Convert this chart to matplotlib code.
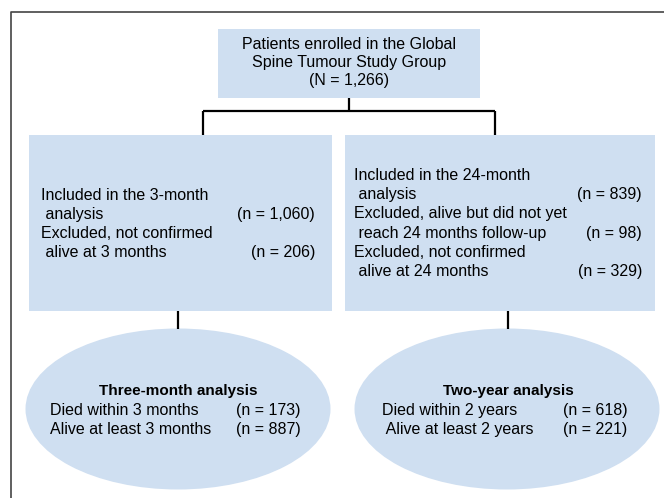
import matplotlib.pyplot as plt
from matplotlib.patches import Rectangle, Ellipse

# counts
n_total = 1266
n_3m_included = 1060
n_3m_excluded = 206
n_24m_included = 839
n_24m_not_yet = 98
n_24m_not_confirmed = 329
n_3m_died = 173
n_3m_alive = 887
n_2y_died = 618
n_2y_alive = 221

top_lines = ["Patients enrolled in the Global", "Spine Tumour Study Group",
             "(N = {:,})".format(n_total)]
left_labels = ["Included in the 3-month", " analysis", "Excluded, not confirmed",
               " alive at 3 months"]
left_counts = [None, n_3m_included, None, n_3m_excluded]
right_labels = ["Included in the 24-month", " analysis", "Excluded, alive but did not yet",
                " reach 24 months follow-up", "Excluded, not confirmed", " alive at 24 months"]
right_counts = [None, n_24m_included, None, n_24m_not_yet, None, n_24m_not_confirmed]
ell_titles = ["Three-month analysis", "Two-year analysis"]
ell_labels = [["Died within 3 months", "Alive at least 3 months"],
              ["Died within 2 years", " Alive at least 2 years"]]
ell_counts = [[n_3m_died, n_3m_alive], [n_2y_died, n_2y_alive]]

fill = "#cfdff1"
plt.rcParams['font.family'] = ['Liberation Sans', 'DejaVu Sans']
fs = 11.5

fig = plt.figure(figsize=(6.64, 4.98), dpi=100)
ax = fig.add_axes([0, 0, 1, 1])
ax.set_xlim(0, 664)
ax.set_ylim(498, 0)
ax.axis('off')

# outer frame (runs off the right and bottom edges)
ax.plot([11, 11, 700], [520, 12, 12], color="#444444", lw=1.2, clip_on=True)

# boxes
ax.add_patch(Rectangle((218, 29), 262, 69, facecolor=fill, edgecolor='none'))
ax.add_patch(Rectangle((29, 135), 303, 176, facecolor=fill, edgecolor='none'))
ax.add_patch(Rectangle((345, 135), 310, 176, facecolor=fill, edgecolor='none'))
ax.add_patch(Ellipse((178, 409), 305, 161, facecolor=fill, edgecolor='none'))
ax.add_patch(Ellipse((507, 409), 305, 161, facecolor=fill, edgecolor='none'))

# connectors
lk = dict(color='black', lw=1.6, solid_capstyle='butt')
ax.plot([349, 349], [98, 111], **lk)
ax.plot([203, 495], [111, 111], **lk)
ax.plot([203, 203], [111, 135], **lk)
ax.plot([495, 495], [111, 135], **lk)
ax.plot([178, 178], [311, 329], **lk)
ax.plot([508, 508], [311, 329], **lk)

# top box text
for i, s in enumerate(top_lines):
    ax.text(349, 49 + i * 18, s, ha='center', va='baseline', fontsize=fs)

# middle boxes
for i, (s, n) in enumerate(zip(left_labels, left_counts)):
    y = 200 + i * 19
    ax.text(41, y, s, ha='left', va='baseline', fontsize=fs)
    if n is not None:
        ax.text(315, y, "(n = {:,})".format(n), ha='right', va='baseline', fontsize=fs)

for i, (s, n) in enumerate(zip(right_labels, right_counts)):
    y = 180 + i * 19.2
    ax.text(354, y, s, ha='left', va='baseline', fontsize=fs)
    if n is not None:
        ax.text(642, y, "(n = {:,})".format(n), ha='right', va='baseline', fontsize=fs)

# ellipses
title_x = [178, 508]
label_x = [50, 382]
count_x = [236, 563]
for k in range(2):
    ax.text(title_x[k], 395, ell_titles[k], ha='center', va='baseline',
            fontsize=11, fontweight='bold')
    for j in range(2):
        y = 415 + j * 19
        ax.text(label_x[k], y, ell_labels[k][j], ha='left', va='baseline', fontsize=fs)
        ax.text(count_x[k], y, "(n = {:,})".format(ell_counts[k][j]),
                ha='left', va='baseline', fontsize=fs)

fig.savefig("out.png", dpi=100)
